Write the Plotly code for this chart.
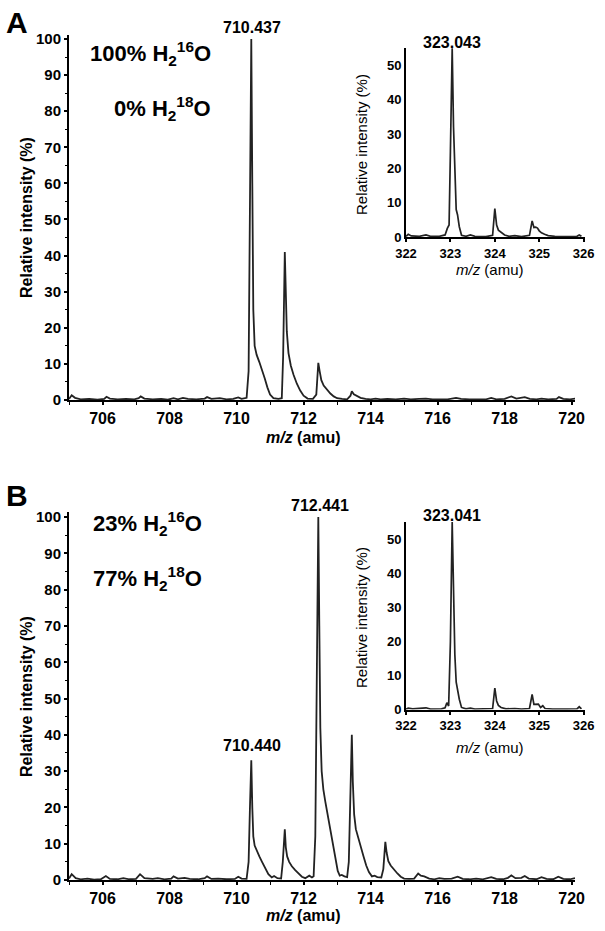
import plotly.graph_objects as go

W, H = 605, 931

# ---------------- data ----------------
# Panel A, main spectrum: 100% H2-16O
mz_a = [705.00, 705.08, 705.18, 705.35, 705.60, 705.85, 706.05, 706.12, 706.22, 706.45,
        706.70, 706.95, 707.08, 707.14, 707.25, 707.50, 707.75, 707.95, 708.12, 708.25,
        708.40, 708.55, 708.80, 709.05, 709.12, 709.25, 709.50, 709.70, 709.90, 710.05,
        710.15, 710.30, 710.36, 710.40, 710.44, 710.47, 710.50, 710.54, 710.60, 710.68,
        710.76, 710.84, 710.92, 711.00, 711.10, 711.25, 711.35, 711.39, 711.44, 711.47,
        711.50, 711.55, 711.62, 711.70, 711.80, 711.90, 712.00, 712.12, 712.28, 712.38,
        712.44, 712.48, 712.53, 712.60, 712.70, 712.80, 712.90, 713.00, 713.15, 713.30,
        713.40, 713.44, 713.50, 713.58, 713.70, 713.85, 714.00, 714.15, 714.30, 714.50,
        714.75, 715.00, 715.20, 715.45, 715.65, 715.85, 716.10, 716.30, 716.55, 716.70,
        716.95, 717.20, 717.45, 717.60, 717.75, 718.00, 718.20, 718.35, 718.60, 718.75,
        718.95, 719.10, 719.30, 719.55, 719.62, 719.75, 719.95, 720.10]
int_a = [0.3, 1.3, 0.6, 0.2, 0.3, 0.1, 0.3, 0.9, 0.4, 0.2,
         0.3, 0.2, 0.5, 1.0, 0.4, 0.2, 0.3, 0.1, 0.5, 0.2,
         0.6, 0.3, 0.2, 0.4, 0.8, 0.3, 0.5, 0.2, 0.3, 0.7,
         0.3, 0.6, 8, 55, 100, 60, 25, 15, 12.5, 10.5,
         8.5, 6, 3.5, 1.5, 0.5, 0.3, 0.5, 12, 41, 30,
         19, 13, 9.5, 7, 4.5, 2.6, 1.2, 0.4, 0.3, 1.5,
         10.3, 8, 5.5, 4, 2.8, 1.8, 1, 0.5, 0.3, 0.2,
         1.2, 2.4, 1.6, 1.2, 0.6, 0.3, 0.2, 0.4, 0.2, 0.3,
         0.2, 0.4, 0.2, 0.3, 0.4, 0.2, 0.3, 0.2, 0.6, 0.3,
         0.2, 0.3, 0.2, 0.6, 0.2, 0.3, 1.0, 0.4, 0.8, 0.3,
         0.2, 0.4, 0.2, 0.3, 0.8, 0.3, 0.2, 0.4]

# Panel B, main spectrum: 23% H2-16O / 77% H2-18O
mz_b = [705.00, 705.08, 705.20, 705.35, 705.55, 705.75, 705.95, 706.10, 706.22, 706.45,
        706.62, 706.80, 707.00, 707.12, 707.25, 707.50, 707.65, 707.85, 708.05, 708.12,
        708.25, 708.45, 708.60, 708.85, 709.05, 709.12, 709.25, 709.45, 709.70, 709.95,
        710.05, 710.15, 710.30, 710.36, 710.40, 710.44, 710.47, 710.50, 710.54, 710.60,
        710.68, 710.76, 710.85, 710.95, 711.05, 711.12, 711.22, 711.33, 711.38, 711.44,
        711.47, 711.51, 711.57, 711.65, 711.75, 711.85, 711.95, 712.05, 712.17, 712.25,
        712.30, 712.35, 712.40, 712.44, 712.47, 712.50, 712.54, 712.59, 712.65, 712.72,
        712.78, 712.84, 712.90, 712.96, 713.02, 713.08, 713.14, 713.22, 713.30, 713.35,
        713.40, 713.44, 713.47, 713.51, 713.56, 713.63, 713.71, 713.79, 713.87, 713.95,
        714.04, 714.12, 714.20, 714.32, 714.38, 714.44, 714.48, 714.53, 714.60, 714.70,
        714.80, 714.90, 715.00, 715.15, 715.30, 715.42, 715.50, 715.60, 715.75, 715.90,
        716.05, 716.20, 716.42, 716.60, 716.75, 716.95, 717.15, 717.35, 717.60, 717.75,
        717.95, 718.10, 718.20, 718.32, 718.50, 718.60, 718.72, 718.95, 719.10, 719.25,
        719.45, 719.60, 719.75, 719.95, 720.10]
int_b = [0.4, 1.6, 0.5, 0.2, 0.4, 0.1, 0.2, 1.1, 0.3, 0.2,
         0.5, 0.2, 0.3, 1.6, 0.5, 0.3, 0.5, 0.2, 0.4, 1.0,
         0.4, 0.6, 0.3, 0.2, 0.5, 1.0, 0.3, 0.4, 0.2, 0.3,
         0.9, 0.4, 0.3, 5, 20, 33, 20, 12, 9.5, 8,
         6.5, 5, 3.2, 1.6, 0.7, 1.1, 0.5, 0.4, 5, 14,
         9, 6.5, 5, 3.8, 2.7, 1.7, 0.9, 0.5, 1.2, 0.7,
         1.0, 12, 60, 100, 70, 42, 30, 25, 21.5, 18,
         14.5, 11, 8, 5, 2.5, 1.2, 1.4, 1.0, 0.8, 5,
         25, 40, 27, 18, 14, 11.5, 9, 6.5, 4, 2.2,
         1.0, 1.2, 0.8, 0.7, 3, 10.5, 7.5, 5.2, 4, 2.8,
         1.8, 0.9, 0.4, 0.3, 0.4, 1.8, 1.2, 1.0, 0.4, 0.2,
         0.5, 0.3, 0.4, 0.9, 0.3, 0.2, 0.4, 0.2, 0.8, 0.3,
         0.2, 0.6, 1.3, 0.5, 0.6, 1.1, 0.4, 0.2, 0.8, 0.3,
         0.2, 0.9, 0.3, 0.2, 0.5]

# Inset A (m/z 322-326)
mz_ia = [322.00, 322.05, 322.12, 322.30, 322.45, 322.55, 322.75, 322.88, 322.93, 322.97,
         323.00, 323.04, 323.07, 323.10, 323.13, 323.16, 323.20, 323.25, 323.35, 323.45,
         323.55, 323.80, 323.95, 324.00, 324.04, 324.08, 324.14, 324.22, 324.32, 324.45,
         324.60, 324.78, 324.84, 324.88, 324.92, 324.96, 325.00, 325.05, 325.12, 325.20,
         325.35, 325.50, 325.70, 325.85, 325.90, 325.95]
int_ia = [0.2, 0.8, 0.3, 0.2, 0.6, 0.2, 0.2, 0.6, 2.5, 3.5,
          25, 55, 32, 16, 8, 6.5, 3, 0.5, 0.2, 0.6,
          0.2, 0.1, 0.5, 8.3, 3.5, 2, 1.3, 0.6, 0.2, 0.4,
          0.1, 0.5, 4.7, 2.8, 2.9, 2.6, 1.8, 1.2, 0.8, 0.4,
          0.2, 0.1, 0.1, 0.2, 0.6, 0.2]

# Inset B (m/z 322-326)
mz_ib = [322.00, 322.05, 322.15, 322.45, 322.55, 322.80, 322.88, 322.92, 322.96, 323.00,
         323.04, 323.07, 323.10, 323.13, 323.16, 323.20, 323.25, 323.35, 323.45, 323.55,
         323.95, 324.00, 324.04, 324.08, 324.14, 324.25, 324.45, 324.60, 324.78, 324.84,
         324.88, 324.92, 324.98, 325.03, 325.08, 325.13, 325.30, 325.60, 325.85, 325.90,
         325.95]
int_ib = [0.1, 0.4, 0.2, 0.5, 0.1, 0.2, 0.5, 2.0, 1.0, 20,
          55, 30, 16, 8, 5.5, 3, 0.6, 0.2, 0.4, 0.1,
          0.3, 6.3, 2.5, 1.2, 0.6, 0.2, 0.3, 0.1, 0.3, 4.4,
          1.5, 1.6, 1.6, 0.6, 1.1, 0.3, 0.1, 0.1, 0.2, 0.8,
          0.2]

main_yticks = [0, 10, 20, 30, 40, 50, 60, 70, 80, 90, 100]
main_xticks = [706, 708, 710, 712, 714, 716, 718, 720]
inset_yticks = [0, 10, 20, 30, 40, 50]
inset_xticks = [322, 323, 324, 325, 326]

peak_labels = ["710.437", "323.043", "712.441", "710.440", "323.041"]
water_a = ["100% H<sub>2</sub><sup>16</sup>O", "0% H<sub>2</sub><sup>18</sup>O"]
water_b = ["23% H<sub>2</sub><sup>16</sup>O", "77% H<sub>2</sub><sup>18</sup>O"]

# ---------------- figure ----------------
FONT = "Liberation Sans, Arial, sans-serif"
LINE = "#222222"


def px(x):
    return x / W


def py(y):
    return 1 - y / H


fig = go.Figure()
fig.add_trace(go.Scatter(x=mz_a, y=int_a, mode="lines", line=dict(color=LINE, width=1.8),
                         xaxis="x", yaxis="y", showlegend=False, hoverinfo="skip"))
fig.add_trace(go.Scatter(x=mz_ia, y=int_ia, mode="lines", line=dict(color=LINE, width=1.7),
                         xaxis="x2", yaxis="y2", showlegend=False, hoverinfo="skip"))
fig.add_trace(go.Scatter(x=mz_b, y=int_b, mode="lines", line=dict(color=LINE, width=1.8),
                         xaxis="x3", yaxis="y3", showlegend=False, hoverinfo="skip"))
fig.add_trace(go.Scatter(x=mz_ib, y=int_ib, mode="lines", line=dict(color=LINE, width=1.7),
                         xaxis="x4", yaxis="y4", showlegend=False, hoverinfo="skip"))


def xax(dom, rng, ticks, anchor, size, minor_dtick):
    return dict(domain=[px(dom[0]), px(dom[1])], range=rng, anchor=anchor, automargin=False,
                showgrid=False, zeroline=False, showline=True, linecolor="black", linewidth=2,
                ticks="outside", ticklen=3, tickwidth=1.5, tickcolor="black",
                tickvals=ticks, ticktext=[str(t) for t in ticks],
                tickfont=dict(family=FONT, size=size, color="black", weight="bold"),
                minor=dict(ticks="outside", ticklen=3, tickwidth=1, tickcolor="black",
                           dtick=minor_dtick, tick0=0),
                fixedrange=True)


def yax(dom, rng, ticks, anchor, size, minor_dtick, tlen):
    d = dict(domain=[py(dom[1]), py(dom[0])], range=rng, anchor=anchor, automargin=False,
             showgrid=False, zeroline=False, showline=True, linecolor="black", linewidth=2,
             ticks="outside" if tlen else "", ticklen=max(tlen, 1), tickwidth=1.5,
             tickcolor="black",
             tickvals=ticks, ticktext=[str(t) for t in ticks],
             tickfont=dict(family=FONT, size=size, color="black", weight="bold"),
             fixedrange=True)
    if minor_dtick:
        d["minor"] = dict(ticks="outside", ticklen=2, tickwidth=1, tickcolor="black",
                          dtick=minor_dtick, tick0=0)
    return d


fig.update_layout(
    template="none",
    xaxis=xax((69, 575), [705, 720.1], main_xticks, "y", 16, 1),
    yaxis=yax((35, 400), [0, 101.1], main_yticks, "x", 15, 5, 3),
    xaxis2=xax((406, 585), [322, 326.03], inset_xticks, "y2", 13, 1),
    yaxis2=yax((48, 237), [0, 55.1], inset_yticks, "x2", 13, None, 0),
    xaxis3=xax((69, 575), [705, 720.1], main_xticks, "y3", 16, 1),
    yaxis3=yax((512, 880), [0, 101.4], main_yticks, "x3", 15, 5, 3),
    xaxis4=xax((406, 585), [322, 326.03], inset_xticks, "y4", 13, 1),
    yaxis4=yax((522, 709.5), [0, 55], inset_yticks, "x4", 13, None, 0),
)

ann = []


def text(x, y, s, size, bold=True, xanchor="center", angle=0):
    ann.append(dict(x=px(x), y=py(y), xref="paper", yref="paper", text=s, showarrow=False,
                    xanchor=xanchor, yanchor="middle", textangle=angle,
                    font=dict(family=FONT, size=size, color="black",
                              weight="bold" if bold else "normal")))


# panel letters
text(17, 22, "A", 30)
text(17, 496, "B", 30)

# water compositions
text(150, 53, water_a[0], 22)
text(162, 108, water_a[1], 22)
text(147, 523, water_b[0], 22)
text(147, 578, water_b[1], 22)

# peak labels
text(252, 27, peak_labels[0], 16)
text(452, 42, peak_labels[1], 16)
text(320, 505, peak_labels[2], 16)
text(252, 745, peak_labels[3], 16)
text(452, 515, peak_labels[4], 16)

# axis titles
ytitle = "Relative intensity (%)"
xtitle = "<i>m/z</i> (amu)"
text(26, 218, ytitle, 16, angle=-90)
text(26, 697, ytitle, 16, angle=-90)
text(361, 145, ytitle, 15, bold=False, angle=-90)
text(361, 618, ytitle, 15, bold=False, angle=-90)
text(303, 437, xtitle, 16)
text(303, 915, xtitle, 16)
text(490, 270, xtitle, 15, bold=False)
text(490, 747, xtitle, 15, bold=False)

fig.update_layout(
    width=W, height=H, margin=dict(l=0, r=0, t=0, b=0, pad=0),
    paper_bgcolor="white", plot_bgcolor="rgba(0,0,0,0)",
    annotations=ann, showlegend=False,
    font=dict(family=FONT, color="black"),
)

fig.write_html("out.html", config={"displayModeBar": False},
               post_script="document.body.style.margin='0px';document.body.style.overflow='hidden';")
